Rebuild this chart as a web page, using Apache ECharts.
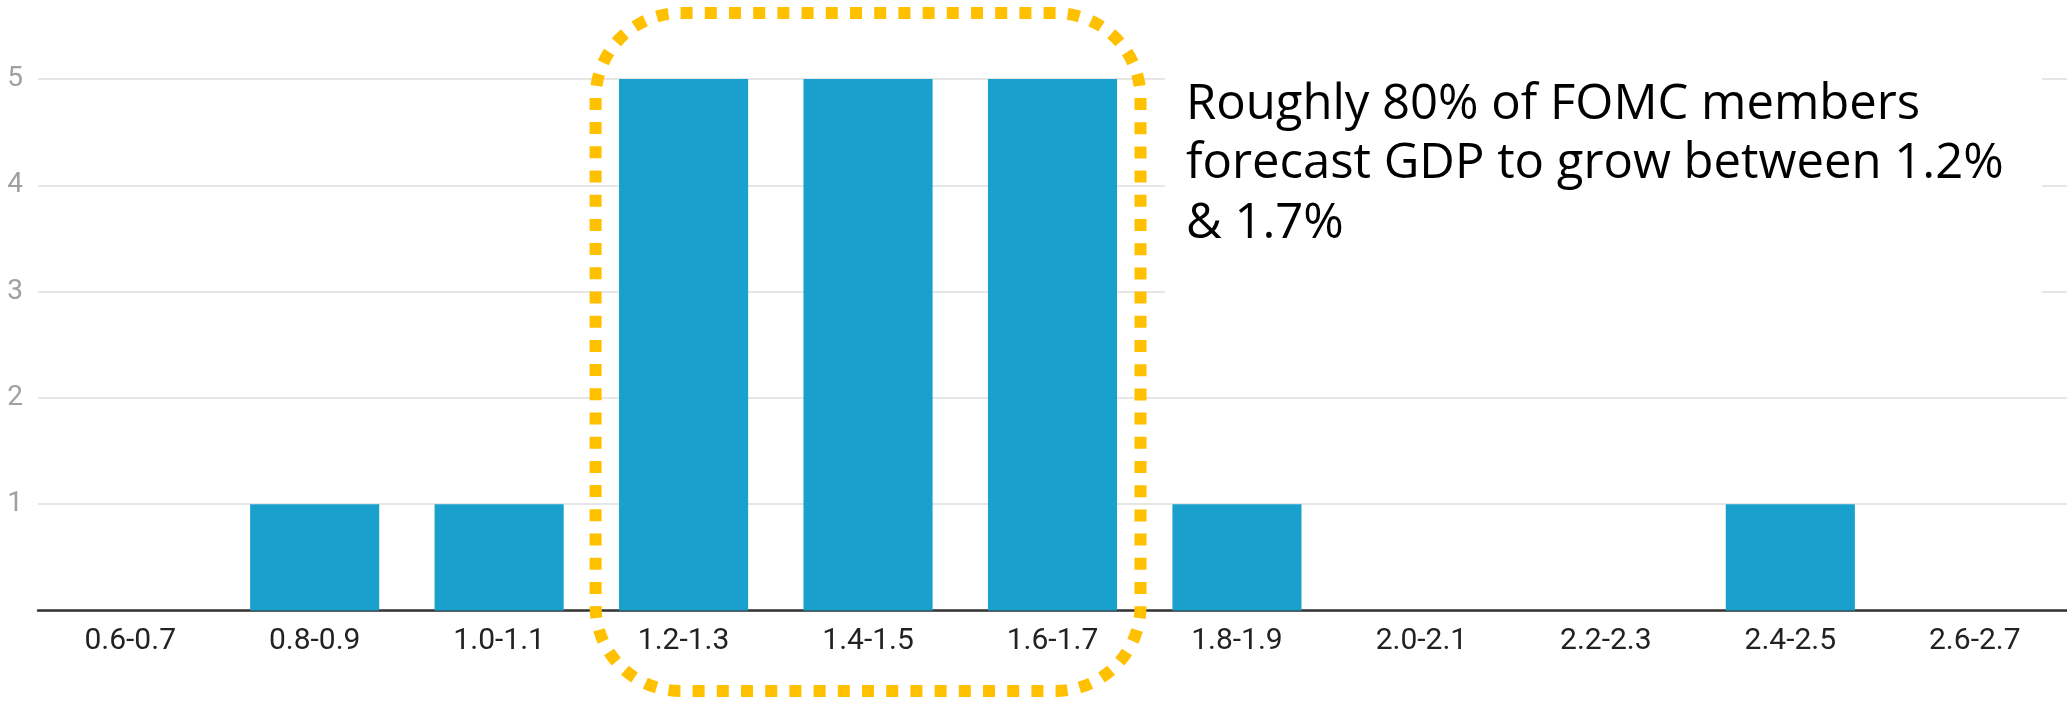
<!DOCTYPE html>
<html>
<head>
<meta charset="utf-8">
<title>FOMC GDP growth projections</title>
<script src="https://cdn.jsdelivr.net/npm/echarts@6/dist/echarts.min.js"></script>
<style>
  html, body { margin: 0; padding: 0; background: #ffffff; }
  #chart { width: 2067px; height: 708px; }
</style>
</head>
<body>
<div id="chart"></div>
<script>
// Projection ranges for real GDP growth (percent)
const categories = ['0.6-0.7', '0.8-0.9', '1.0-1.1', '1.2-1.3', '1.4-1.5', '1.6-1.7',
                    '1.8-1.9', '2.0-2.1', '2.2-2.3', '2.4-2.5', '2.6-2.7'];
// Number of FOMC participants in each range
const counts = [0, 1, 1, 5, 5, 5, 1, 0, 0, 1, 0];
// Value axis ticks
const yTicks = [0, 1, 2, 3, 4, 5];
// Ranges highlighted by the dotted outline
const highlightFrom = '1.2-1.3';
const highlightTo = '1.6-1.7';
const noteLines = ['Roughly 80% of FOMC members', 'forecast GDP to grow between 1.2%', '& 1.7%'];

const chart = echarts.init(document.getElementById('chart'), null, { renderer: 'canvas' });

chart.setOption({
  animation: false,
  backgroundColor: '#ffffff',
  grid: { left: 38, right: 0, top: 79, bottom: 97.5, containLabel: false },
  xAxis: {
    type: 'category',
    data: categories,
    axisTick: { show: false },
    axisLine: { lineStyle: { color: '#333333', width: 2.5 } },
    axisLabel: {
      color: '#222222',
      fontFamily: 'Roboto',
      fontSize: 30,
      margin: 16,
      interval: 0
    }
  },
  yAxis: {
    type: 'value',
    min: yTicks[0],
    max: yTicks[yTicks.length - 1],
    interval: 1,
    axisLine: { show: false },
    axisTick: { show: false },
    splitLine: { lineStyle: { color: '#e6e6e6', width: 2 } },
    axisLabel: {
      color: '#a0a0a0',
      fontFamily: 'Roboto',
      fontSize: 28,
      margin: 15,
      formatter: v => (v === 0 ? '' : String(v))
    }
  },
  series: [{
    type: 'bar',
    data: counts,
    barCategoryGap: '30%',
    itemStyle: { color: '#1aa0cc' },
    z: 2
  }]
});

// Outline around the highlighted ranges, placed from the category scale
const cx1 = chart.convertToPixel({ xAxisIndex: 0 }, highlightFrom);
const cx2 = chart.convertToPixel({ xAxisIndex: 0 }, highlightTo);
const pad = 88;

chart.setOption({
  graphic: [
    {
      type: 'rect',
      left: 1165,
      top: 30,
      shape: { width: 877, height: 300 },
      style: { fill: '#ffffff' },
      z: 50
    },
    {
      type: 'text',
      x: 1186,
      y: 75,
      style: {
        text: noteLines.join('\n'),
        fill: '#000000',
        font: '49px "Open Sans"',
        lineHeight: 59.5,
        textVerticalAlign: 'top'
      },
      z: 60
    },
    {
      type: 'rect',
      shape: { x: cx1 - pad, y: 13, width: (cx2 - cx1) + 2 * pad, height: 678, r: 85 },
      style: {
        fill: 'none',
        stroke: '#ffc000',
        lineWidth: 12,
        lineDash: [12, 12.2],
        lineCap: 'butt'
      },
      z: 100
    }
  ]
});
</script>
</body>
</html>
